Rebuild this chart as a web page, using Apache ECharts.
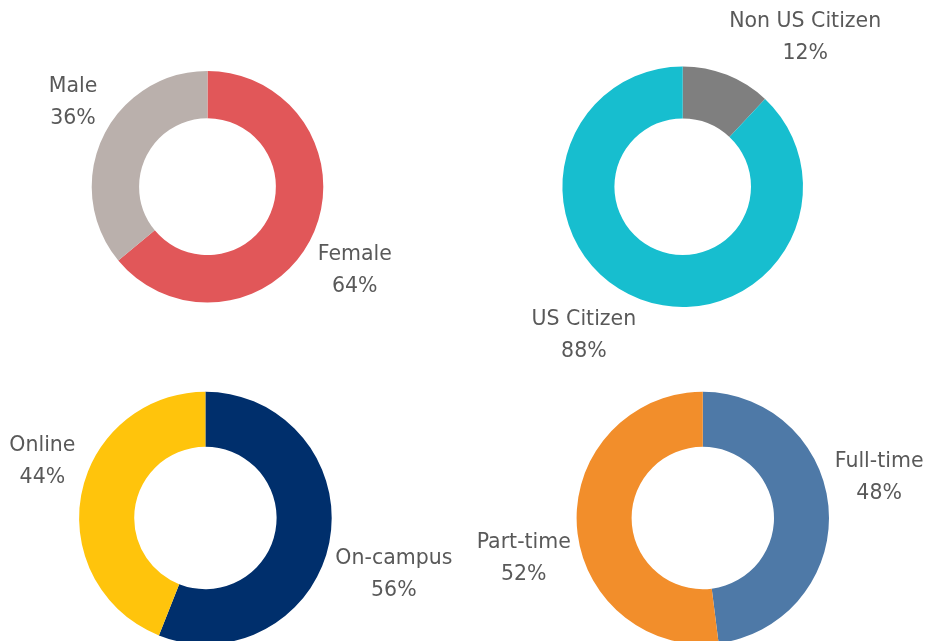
<!DOCTYPE html>
<html>
<head>
<meta charset="utf-8">
<script src="https://cdn.jsdelivr.net/npm/echarts@6/dist/echarts.min.js"></script>
<style>
html,body{margin:0;padding:0;background:#fff;}
#chart{width:933px;height:641px;}
</style>
</head>
<body>
<div id="chart"></div>
<script>
// ---- data ----
var genderNames = ['Female', 'Male'];
var genderValues = [64, 36];
var genderColors = ['#E15759', '#BAB0AC'];

var citizenNames = ['Non US Citizen', 'US Citizen'];
var citizenValues = [12, 88];
var citizenColors = ['#7F7F7F', '#17BECF'];

var modeNames = ['On-campus', 'Online'];
var modeValues = [56, 44];
var modeColors = ['#002F6C', '#FFC40C'];

var loadNames = ['Full-time', 'Part-time'];
var loadValues = [48, 52];
var loadColors = ['#4E79A7', '#F28E2B'];

var groups = [
  { names: genderNames, values: genderValues, colors: genderColors, center: [207.5, 186.7], radius: [68.4, 115.8] },
  { names: citizenNames, values: citizenValues, colors: citizenColors, center: [682.7, 186.7], radius: [68.3, 120.3] },
  { names: modeNames, values: modeValues, colors: modeColors, center: [205.4, 518], radius: [71.2, 126.3] },
  { names: loadNames, values: loadValues, colors: loadColors, center: [702.8, 518], radius: [71.2, 126.2] }
];

function midDir(values, idx) {
  var total = 0, before = 0;
  for (var i = 0; i < values.length; i++) { total += values[i]; if (i < idx) before += values[i]; }
  var a = (before + values[idx] / 2) / total * Math.PI * 2;
  return [Math.sin(a), -Math.cos(a)];
}

var chart = echarts.init(document.getElementById('chart'), null, { renderer: 'canvas' });

var series = groups.map(function (g, si) {
  return {
    type: 'pie',
    center: g.center,
    radius: g.radius,
    startAngle: 90,
    clockwise: true,
    avoidLabelOverlap: false,
    emphasis: { disabled: true },
    data: g.names.map(function (n, i) {
      return { name: n, value: g.values[i], itemStyle: { color: g.colors[i] } };
    }),
    label: {
      show: true,
      position: 'outside',
      alignTo: 'none',
      distanceToLabelLine: 0,
      formatter: '{b}\n{c}%',
      fontFamily: 'DejaVu Sans',
      fontSize: 20.5,
      lineHeight: 32,
      color: '#595959'
    },
    labelLine: { show: false, length: 6, length2: 0 },
    labelLayout: function (p) {
      var d = midDir(g.values, p.dataIndex);
      var r = p.labelRect;
      var ax = d[0] >= 0 ? r.x : r.x + r.width;
      var ay = r.y + r.height / 2;
      return {
        x: ax + (d[0] >= 0 ? 1 : -1) * r.width / 2,
        y: ay + (d[1] >= 0 ? 1 : -1) * r.height / 2,
        align: 'center',
        verticalAlign: 'middle'
      };
    }
  };
});

chart.setOption({
  backgroundColor: '#ffffff',
  animation: false,
  series: series
});
</script>
</body>
</html>
